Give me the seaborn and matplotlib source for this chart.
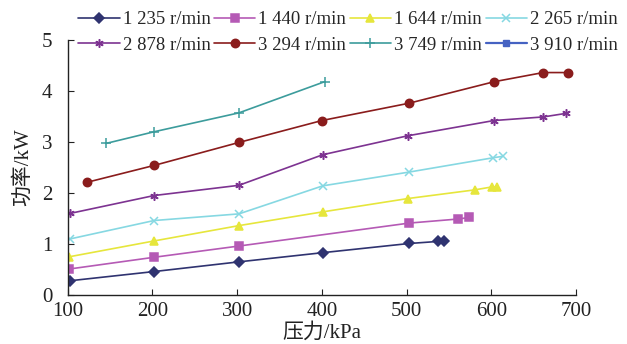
import matplotlib
matplotlib.use("Agg")
import matplotlib.pyplot as plt
import seaborn as sns
import pandas as pd

sns.set_theme(style="ticks")
plt.rcParams['font.family'] = ['Liberation Serif', 'Noto Sans CJK SC']

labels = ["1 235 r/min", "1 440 r/min", "1 644 r/min", "2 265 r/min",
          "2 878 r/min", "3 294 r/min", "3 749 r/min", "3 910 r/min"]

p_1235 = [103, 202, 302, 401, 503, 537, 544]
w_1235 = [0.28, 0.46, 0.65, 0.83, 1.01, 1.05, 1.06]
p_1440 = [102, 202, 302, 503, 561, 574]
w_1440 = [0.51, 0.74, 0.96, 1.41, 1.49, 1.52]
p_1644 = [102, 202, 302, 401, 501, 580, 601, 607]
w_1644 = [0.75, 1.06, 1.36, 1.63, 1.89, 2.06, 2.12, 2.12]
p_2265 = [103, 202, 302, 401, 503, 602, 614]
w_2265 = [1.10, 1.46, 1.59, 2.14, 2.41, 2.69, 2.72]
p_2878 = [103, 202, 302, 401, 501, 603, 661, 688]
w_2878 = [1.60, 1.95, 2.15, 2.75, 3.12, 3.42, 3.49, 3.56]
p_3294 = [123, 202, 302, 400, 503, 603, 661, 690]
w_3294 = [2.21, 2.54, 2.99, 3.42, 3.76, 4.18, 4.36, 4.36]
p_3749 = [145, 202, 302, 403]
w_3749 = [2.97, 3.20, 3.57, 4.18]
p_3910 = []
w_3910 = []

pressures = [p_1235, p_1440, p_1644, p_2265, p_2878, p_3294, p_3749, p_3910]
powers = [w_1235, w_1440, w_1644, w_2265, w_2878, w_3294, w_3749, w_3910]

colors = ["#2f3370", "#b55ab5", "#e6e63c", "#86d8e2",
          "#7d3391", "#8a1c1c", "#3c9c9c", "#4562c2"]
markers = ["D", "s", "^", "x", (6, 2, 0), "o", "+", "s"]
msizes = [5, 6, 6, 6, 6, 6, 7, 4]

fig = plt.figure(figsize=(6.27, 3.44), dpi=100)
ax = fig.add_axes([0.108, 0.1424, 0.811, 0.7416])

for lab, px, py, c, m, ms in zip(labels, pressures, powers, colors, markers, msizes):
    df = pd.DataFrame({"p": px, "w": py}, dtype=float)
    if len(df):
        sns.lineplot(data=df, x="p", y="w", ax=ax, color=c, marker=m,
                     markersize=ms, linewidth=1.2, markeredgecolor=c,
                     markeredgewidth=1.1, label=lab, legend=False)
    else:
        ax.plot([], [], color=c, marker=m, markersize=ms, linewidth=1.6,
                label=lab)

ax.set_xlim(100, 700)
ax.set_ylim(0, 5)
ax.set_xticks([100, 200, 300, 400, 500, 600, 700])
ax.set_yticks([0, 1, 2, 3, 4, 5])
ax.tick_params(direction="in", length=4, width=0.8, labelsize=15, colors="#222222")
ax.tick_params(axis="x", pad=5)
ax.tick_params(axis="y", pad=11)
for s in ["top", "right"]:
    ax.spines[s].set_visible(False)
for s in ["left", "bottom"]:
    ax.spines[s].set_color("#222222")
    ax.spines[s].set_linewidth(1.0)
ax.set_xlabel("压力/kPa", fontsize=15, color="#222222", va="center")
ax.xaxis.set_label_coords(0.5, -0.148)
ax.set_ylabel("功率/kW", fontsize=15, color="#222222", va="center")
ax.yaxis.set_label_coords(-0.088, 0.5)

handles, labs = ax.get_legend_handles_labels()
order = [0, 4, 1, 5, 2, 6, 3, 7]
fig.legend([handles[i] for i in order], [labs[i] for i in order],
           loc="upper center", bbox_to_anchor=(0.555, 0.99),
           ncol=4, frameon=False, fontsize=13.5, handlelength=2.2,
           handletextpad=0.15, columnspacing=0.2, labelspacing=0.45,
           borderaxespad=0.0)

fig.savefig("out.png", dpi=100)
